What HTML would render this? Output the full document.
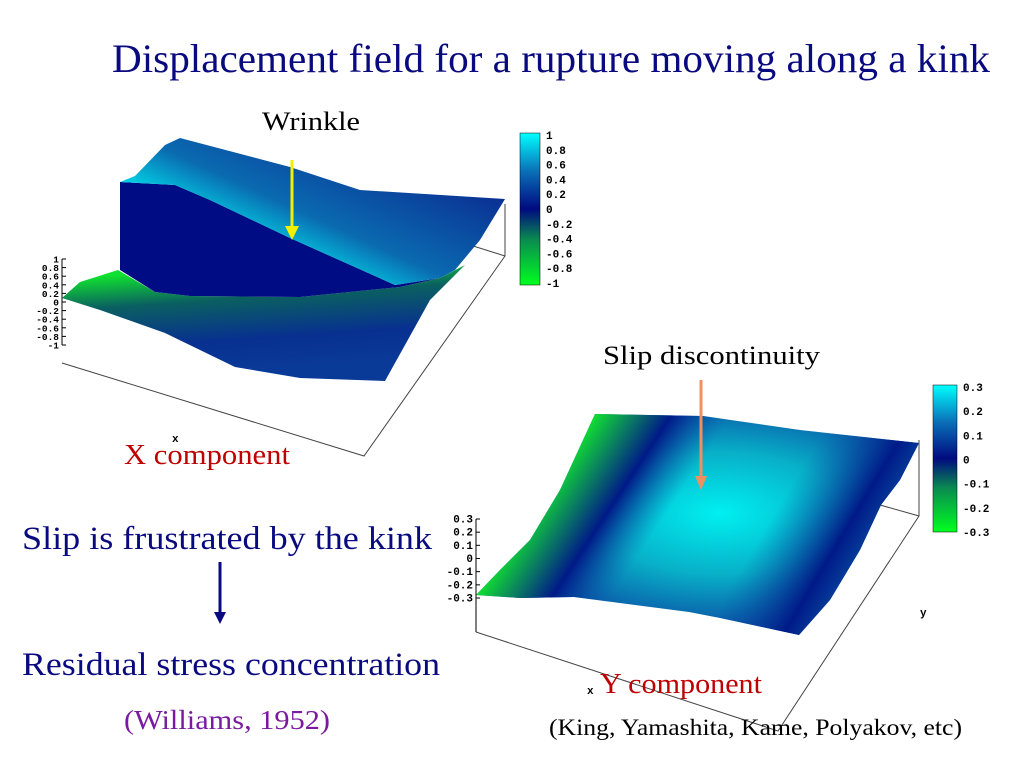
<!DOCTYPE html>
<html><head><meta charset="utf-8"><style>
html,body{margin:0;padding:0;background:#fff;width:1023px;height:767px;overflow:hidden}
svg{display:block}
text{font-family:"Liberation Serif",serif}
.m{font-family:"Liberation Mono",monospace;font-weight:bold;font-size:11px;fill:#000}
.s{font-size:9.5px}
</style></head><body>
<svg id="s" width="1023" height="767" viewBox="0 0 1023 767">
<defs>
<linearGradient id="cb1" x1="0" y1="1" x2="0" y2="0">
<stop offset="0" stop-color="#00ff20"/><stop offset="0.3" stop-color="#0a8a50"/><stop offset="0.5" stop-color="#000a80"/><stop offset="0.75" stop-color="#0a70b8"/><stop offset="1" stop-color="#00ffff"/></linearGradient>
<linearGradient id="up" x1="0.2" y1="0.6" x2="0.8" y2="0.1">
<stop offset="0" stop-color="#00e8f0"/><stop offset="0.35" stop-color="#0a6ab0"/><stop offset="1" stop-color="#0a2a90"/></linearGradient>
<linearGradient id="lo" x1="0.3" y1="0.05" x2="0.5" y2="0.9">
<stop offset="0" stop-color="#10e030"/><stop offset="0.3" stop-color="#0a6060"/><stop offset="0.7" stop-color="#083090"/><stop offset="1" stop-color="#0a3a98"/></linearGradient>
<radialGradient id="yc" cx="0.55" cy="0.45" r="0.5">
<stop offset="0" stop-color="#00f0f0"/><stop offset="0.55" stop-color="#08b0c8"/><stop offset="1" stop-color="#0a5aa8"/></radialGradient>
<linearGradient id="yl" gradientUnits="userSpaceOnUse" x1="535" y1="505" x2="655" y2="584">
<stop offset="0" stop-color="#10e030"/><stop offset="0.22" stop-color="#0a8060"/><stop offset="0.45" stop-color="#001a88"/><stop offset="0.8" stop-color="rgba(10,90,168,0)"/></linearGradient>
<linearGradient id="yr" gradientUnits="userSpaceOnUse" x1="800" y1="470" x2="900" y2="530">
<stop offset="0" stop-color="rgba(10,90,168,0)"/><stop offset="0.6" stop-color="#001a88"/><stop offset="1" stop-color="#0a5aa8"/></linearGradient>
</defs>

<text x="112" y="72" font-size="40" fill="#0a0a80" textLength="878" lengthAdjust="spacingAndGlyphs">Displacement field for a rupture moving along a kink</text>

<g>
<polyline points="62,363 364,456 505,256 505,204" fill="none" stroke="#444" stroke-width="1"/>
<line x1="505" y1="256" x2="470" y2="245" stroke="#444"/>
<polygon fill="url(#lo)" points="62,298 80,282 118,270 155,292 190,296 300,297 400,287 440,278 465,265 430,300 405,345 385,381 300,378 235,367 165,333 100,310"/>
<polygon fill="#000c84" points="120,182 175,185 210,200 290,238 395,285 440,278 400,287 300,297 190,296 155,292 120,270"/>
<polygon fill="url(#up)" points="120,182 135,176 165,145 180,138 290,167 360,190 505,199 480,240 455,270 440,278 395,285 290,238 210,200 175,185"/>
<line x1="62" y1="259" x2="62" y2="345" stroke="#000"/>
<g id="xticks"></g>
<text class="m" x="172" y="442">x</text>
<rect x="520" y="133" width="20" height="152" fill="url(#cb1)" stroke="#000" stroke-width="0.5"/>
<g id="xcb"></g>
<line x1="292" y1="160" x2="292" y2="228" stroke="#f0f000" stroke-width="3"/>
<polygon points="285,226 299,226 292,240" fill="#f0f000"/>
<text x="262" y="130" font-size="26" fill="#000" textLength="98" lengthAdjust="spacingAndGlyphs">Wrinkle</text>
<text x="124" y="464" font-size="28" fill="#c00000" textLength="166" lengthAdjust="spacingAndGlyphs">X component</text>
</g>

<g>
<polyline points="476,632 778,731 919,516 919,440" fill="none" stroke="#444"/>
<line x1="919" y1="516" x2="880" y2="505" stroke="#444"/>
<polygon fill="url(#yc)" points="476,595 500,570 530,540 560,490 595,414 703,416 800,430 919,443 900,480 881,505 860,550 830,600 799,635 720,618 689,612 574,597 520,598"/>
<polygon fill="url(#yl)" points="476,595 500,570 530,540 560,490 595,414 703,416 800,430 919,443 900,480 881,505 860,550 830,600 799,635 720,618 689,612 574,597 520,598"/>
<polygon fill="url(#yr)" points="703,416 800,430 919,443 900,480 881,505 860,550 830,600 799,635 720,618 760,500"/>
<line x1="476" y1="519" x2="476" y2="632" stroke="#000"/>
<g id="yticks"></g>
<text class="m" x="587" y="694">x</text>
<text class="m" x="920" y="616">y</text>
<rect x="933" y="385" width="24" height="147" fill="url(#cb1)" stroke="#000" stroke-width="0.5"/>
<g id="ycb"></g>
<line x1="701" y1="380" x2="701" y2="478" stroke="#f09060" stroke-width="3"/>
<polygon points="695,476 707,476 701,490" fill="#f09060"/>
<text x="603" y="364" font-size="26" fill="#000" textLength="217" lengthAdjust="spacingAndGlyphs">Slip discontinuity</text>
<text x="600" y="693" font-size="28" fill="#c00000" textLength="162" lengthAdjust="spacingAndGlyphs">Y component</text>
</g>

<text x="22" y="549" font-size="33" fill="#0a0a80" textLength="410" lengthAdjust="spacingAndGlyphs">Slip is frustrated by the kink</text>
<line x1="220" y1="562" x2="220" y2="614" stroke="#0a0a80" stroke-width="3"/>
<polygon points="214,612 226,612 220,624" fill="#0a0a80"/>
<text x="22" y="675" font-size="33" fill="#0a0a80" textLength="418" lengthAdjust="spacingAndGlyphs">Residual stress concentration</text>
<text x="124" y="729" font-size="27" fill="#7a1aa0" textLength="206" lengthAdjust="spacingAndGlyphs">(Williams, 1952)</text>
<text x="549" y="735" font-size="23" fill="#000" textLength="413" lengthAdjust="spacingAndGlyphs">(King, Yamashita, Kame, Polyakov, etc)</text>
</svg>
<script>
const xTicks=["1","0.8","0.6","0.4","0.2","0","-0.2","-0.4","-0.6","-0.8","-1"];
const xTickVals=[1,0.8,0.6,0.4,0.2,0,-0.2,-0.4,-0.6,-0.8,-1];
const yTicks=["0.3","0.2","0.1","0","-0.1","-0.2","-0.3"];
const yTickVals=[0.3,0.2,0.1,0,-0.1,-0.2,-0.3];
const NS="http://www.w3.org/2000/svg";
function axis(gid,labels,vals,vmin,vmax,top,bot,x,cls){
  const g=document.getElementById(gid);
  const sc=v=>bot-(v-vmin)/(vmax-vmin)*(bot-top);
  vals.forEach((v,i)=>{
    const y=sc(v);
    const l=document.createElementNS(NS,'line');
    
    
    l.setAttribute('x1',x);l.setAttribute('x2',x+4);l.setAttribute('y1',y);l.setAttribute('y2',y);
    l.setAttribute('stroke','#000');g.appendChild(l);
    const t=document.createElementNS(NS,'text');
    
    
    t.setAttribute('class',cls);t.setAttribute('y',y+3.5);t.setAttribute('x',x-3);
    t.setAttribute('text-anchor','end');
    t.textContent=labels[i];g.appendChild(t);
  });
}
axis('xticks',xTicks,xTickVals,-1,1,259,345,62,'m s');
axis('yticks',yTicks,yTickVals,-0.3,0.3,519,598,476,'m');
function cb(gid,labels,vals,vmin,vmax,top,bot,x){
  const g=document.getElementById(gid);
  vals.forEach((v,i)=>{
    const y=bot-(v-vmin)/(vmax-vmin)*(bot-top);
    const t=document.createElementNS(NS,'text');
    
    
    t.setAttribute('class','m');t.setAttribute('x',x);t.setAttribute('y',y+4);
    t.textContent=labels[i];g.appendChild(t);
  });
}
cb('xcb',xTicks,xTickVals,-1,1,135,283,546);
cb('ycb',yTicks,yTickVals,-0.3,0.3,387,532,963);
</script>
</body></html>
